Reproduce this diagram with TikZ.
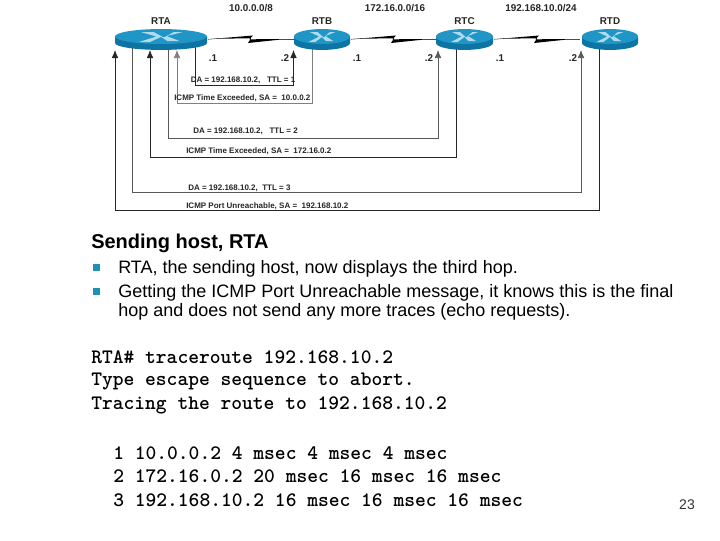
\documentclass[tikz,border=0pt]{standalone}
\usepackage{fontspec}
\setmainfont{Liberation Sans}
\usetikzlibrary{arrows.meta,calc}
\definecolor{rtop}{HTML}{1F96C6}
\definecolor{rside}{HTML}{0E74A4}
\definecolor{bul}{HTML}{1E8FB5}
\tikzset{
 x=0.75pt,y=-0.75pt,
 rnode/.style={inner sep=0,outer sep=0,minimum height=15pt},
 tag/.style={font=\bfseries\fontsize{7.4}{8}\selectfont,inner sep=0,text=black!85},
 small/.style={font=\bfseries\fontsize{6}{7}\selectfont,inner sep=0,text=black!85},
 body/.style={font=\fontsize{13.5}{15}\selectfont,inner sep=0,anchor=west,text=black},
 code/.style={font=\ttfamily\bfseries\fontsize{15.4}{17}\selectfont,inner sep=0,anchor=west},
 pathk/.style={line width=0.6pt,draw=black!85},
 patho/.style={line width=0.55pt,draw=black!65},
 tipup/.style={-{Latex[length=6pt,width=5pt]}},
}
\newcommand{\rtr}[4]{% name, cx, width, label
 \node[rnode,minimum width=#3*0.75pt] (#1) at (#2,39.5) {};
 \fill[rside] (#2-#3/2,36.5) -- (#2-#3/2,43) arc[start angle=180,end angle=360,x radius=#3*0.375pt,y radius=5.2pt] -- (#2+#3/2,36.5) -- cycle;
 \fill[rtop] (#2,36.5) ellipse[x radius=#3*0.375pt,y radius=5.6pt];
 \fill[white!65!rtop] (#2-#3*0.22,32) -- (#2-#3*0.08,32) -- (#2+#3*0.03,37.5) -- (#2+#3*0.14,32) -- (#2+#3*0.24,32) -- (#2+#3*0.06,36) -- (#2+#3*0.2,41) -- (#2+#3*0.07,41) -- (#2,37) -- (#2-#3*0.12,42) -- (#2-#3*0.24,42) -- (#2-#3*0.05,36.5) -- cycle;
 \node[tag] (#1t) at (#2,21) {#4};
}
\newcommand{\lnk}[1]{%
 \draw[line width=0.4pt,black!70] (#1,39.3) -- +(12,-1);
 \fill[black] (#1+8,38.6) -- (#1+45,35.5) -- (#1+41.5,39.3) -- (#1+78,39) -- (#1+40,43) -- (#1+43,38.4) -- cycle;
 \draw[line width=0.4pt,black!70] (#1+72,39.2) -- +(14,0);
}
\begin{document}
\begin{tikzpicture}
\useasboundingbox (0,0) rectangle (720,540);
\fill[white] (0,0) rectangle (720,540);
\coordinate (a1) at (115,50); \coordinate (a2) at (132.5,47); \coordinate (a3) at (150,50);
\coordinate (a4) at (168,47); \coordinate (a5) at (177,50); \coordinate (a6) at (195,47);
\coordinate (b1) at (293.5,50); \coordinate (b2) at (312,47);
\coordinate (c1) at (438,50); \coordinate (c2) at (456,47);
\coordinate (d1) at (581,50); \coordinate (d2) at (599.5,47);
% return and forward traces
\draw[pathk,tipup] (d2) |- (115,210) -- (a1);
\draw[patho,tipup] (a2) |- (581,192) -- (d1);
\draw[pathk,tipup] (c2) |- (150,157) -- (a3);
\draw[patho,tipup] (a4) |- (438,138) -- (c1);
\draw[patho,tipup,draw=black!50] (b2) |- (177,103) -- (a5);
\draw[pathk,tipup] (a6) |- (293.5,85) -- (b1);
% serial links
\lnk{208}\lnk{351}\lnk{494}
% routers
\rtr{rta}{161}{92}{RTA}
\rtr{rtb}{322}{56}{RTB}
\rtr{rtc}{464.5}{57}{RTC}
\rtr{rtd}{610}{56}{RTD}
% labels
\node[tag] (n1) at (251,8) {10.0.0.0/8};
\node[tag] (n2) at (395,8) {172.16.0.0/16};
\node[tag] (n3) at (541,8) {192.168.10.0/24};
\node[tag] (i1) at (213,58) {.1};
\node[tag] (i2) at (285,58) {.2};
\node[tag] (i3) at (357,58) {.1};
\node[tag] (i4) at (429,58) {.2};
\node[tag] (i5) at (500,58) {.1};
\node[tag] (i6) at (573,58) {.2};
\node[small,anchor=west] (m1) at (190.5,80) {DA = 192.168.10.2,\ \ \ TTL = 1};
\node[small,anchor=west] (m2) at (174,98) {ICMP Time Exceeded, SA =\ \ 10.0.0.2};
\node[small,anchor=west] (m3) at (193,131) {DA = 192.168.10.2,\ \ \ TTL = 2};
\node[small,anchor=west] (m4) at (186,151.5) {ICMP Time Exceeded, SA =\ \ 172.16.0.2};
\node[small,anchor=west] (m5) at (188,188) {DA = 192.168.10.2,\ \ TTL = 3};
\node[small,anchor=west] (m6) at (186,206) {ICMP Port Unreachable, SA =\ \ 192.168.10.2};
% text
\node[body,font=\bfseries\fontsize{15}{17}\selectfont] (h) at (91,243) {Sending host, RTA};
\fill[bul] (92.5,264) rectangle +(7.5,7);
\fill[bul] (92.5,288) rectangle +(7.5,7);
\node[body] (b1t) at (118,268.5) {RTA, the sending host, now displays the third hop.};
\node[body] (b2t) at (118,292.5) {Getting the ICMP Port Unreachable message, it knows this is the final};
\node[body] (b3t) at (118,311.5) {hop and does not send any more traces (echo requests).};
\node[code] (c1t) at (91,357.5) {RTA\# traceroute 192.168.10.2};
\node[code] (c2t) at (91,381) {Type escape sequence to abort.};
\node[code] (c3t) at (91,405) {Tracing the route to 192.168.10.2};
\node[code] (c4t) at (113,453) {1 10.0.0.2 4 msec 4 msec 4 msec};
\node[code] (c5t) at (113,476.5) {2 172.16.0.2 20 msec 16 msec 16 msec};
\node[code] (c6t) at (113,500) {3 192.168.10.2 16 msec 16 msec 16 msec};
\node[font=\fontsize{10.5}{12}\selectfont,inner sep=0,text=black!80] (pg) at (687,504.5) {23};
\end{tikzpicture}
\end{document}
